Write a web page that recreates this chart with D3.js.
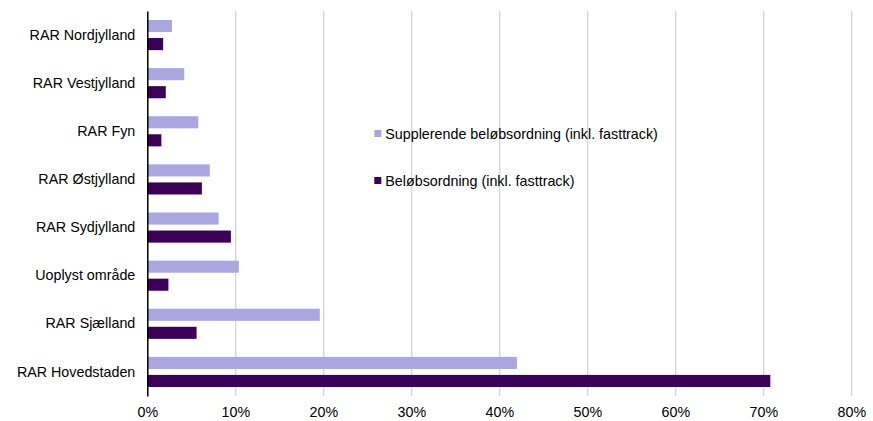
<!DOCTYPE html>
<html>
<head>
<meta charset="UTF-8">
<title>RAR</title>
<style>
  body { margin: 0; background: #fff; }
  svg { display: block; font-family: "Liberation Sans", Arial, sans-serif; }
  .grid line { stroke: #c8c8c8; stroke-width: 1; }
  .axis-x .domain, .axis-x line { display: none; }
  .axis-y line { display: none; }
  .axis text { font-size: 14.3px; fill: #000; }
</style>
</head>
<body>
<div id="chart"></div>
<script src="https://d3js.org/d3.v7.min.js"></script>
<script>
// data
const categories = ["RAR Nordjylland", "RAR Vestjylland", "RAR Fyn", "RAR Østjylland",
  "RAR Sydjylland", "Uoplyst område", "RAR Sjælland", "RAR Hovedstaden"];
const seriesNames = ["Supplerende beløbsordning (inkl. fasttrack)", "Beløbsordning (inkl. fasttrack)"];
const supplerende = [2.8, 4.2, 5.8, 7.1, 8.1, 10.4, 19.6, 42.0];
const beloeb = [1.8, 2.1, 1.6, 6.2, 9.5, 2.4, 5.6, 70.8];
const xTicks = [0, 10, 20, 30, 40, 50, 60, 70, 80];
const colors = ["#a9a6e0", "#3b0058"];

const width = 873, height = 421,
  margin = { top: 11, right: 21, bottom: 25, left: 147.3 },
  w = width - margin.left - margin.right,
  h = height - margin.top - margin.bottom;

const svg = d3.select("#chart").append("svg")
  .attr("width", width).attr("height", height);

const g = svg.append("g")
  .attr("transform", `translate(${margin.left},${margin.top})`);

const x = d3.scaleLinear().domain([0, 80]).range([0, 704]);
const y = d3.scaleBand().domain(categories).range([0, h]).paddingInner(0.374).paddingOuter(0.187);
const ySub = d3.scaleBand().domain([0, 1]).range([0, y.bandwidth()]).paddingInner(0.33);

// gridlines
g.append("g").attr("class", "grid")
  .selectAll("line").data(xTicks.slice(1)).enter().append("line")
  .attr("x1", d => Math.round(x(d)) + 0.5).attr("x2", d => Math.round(x(d)) + 0.5)
  .attr("y1", 0).attr("y2", h);

// bars
const rows = categories.map((c, i) => ({ c, vals: [supplerende[i], beloeb[i]] }));
const grp = g.selectAll(".cat").data(rows).enter().append("g")
  .attr("transform", d => `translate(0,${y(d.c)})`);
grp.selectAll("rect").data(d => d.vals).enter().append("rect")
  .attr("x", 0)
  .attr("y", (d, i) => ySub(i))
  .attr("width", d => x(d))
  .attr("height", ySub.bandwidth())
  .attr("fill", (d, i) => colors[i]);

// x axis
g.append("g").attr("class", "axis axis-x")
  .attr("transform", `translate(0,${h})`)
  .call(d3.axisBottom(x).tickValues(xTicks).tickFormat(d => d + "%").tickSize(0).tickPadding(11));

// y axis
g.append("g").attr("class", "axis axis-y")
  .call(d3.axisLeft(y).tickSize(0).tickPadding(12))
  .select(".domain").attr("stroke", "#000").attr("stroke-width", 1.5);

// legend
const legend = g.append("g").attr("transform", "translate(227,123)");
seriesNames.forEach((n, i) => {
  const row = legend.append("g").attr("transform", `translate(0,${i * 47})`);
  row.append("rect").attr("x", 0).attr("y", -4).attr("width", 7).attr("height", 7).attr("fill", colors[i]);
  row.append("text").attr("x", 11).attr("y", 0).attr("dy", "0.35em")
    .attr("font-size", 14.3).text(n);
});
</script>
</body>
</html>
